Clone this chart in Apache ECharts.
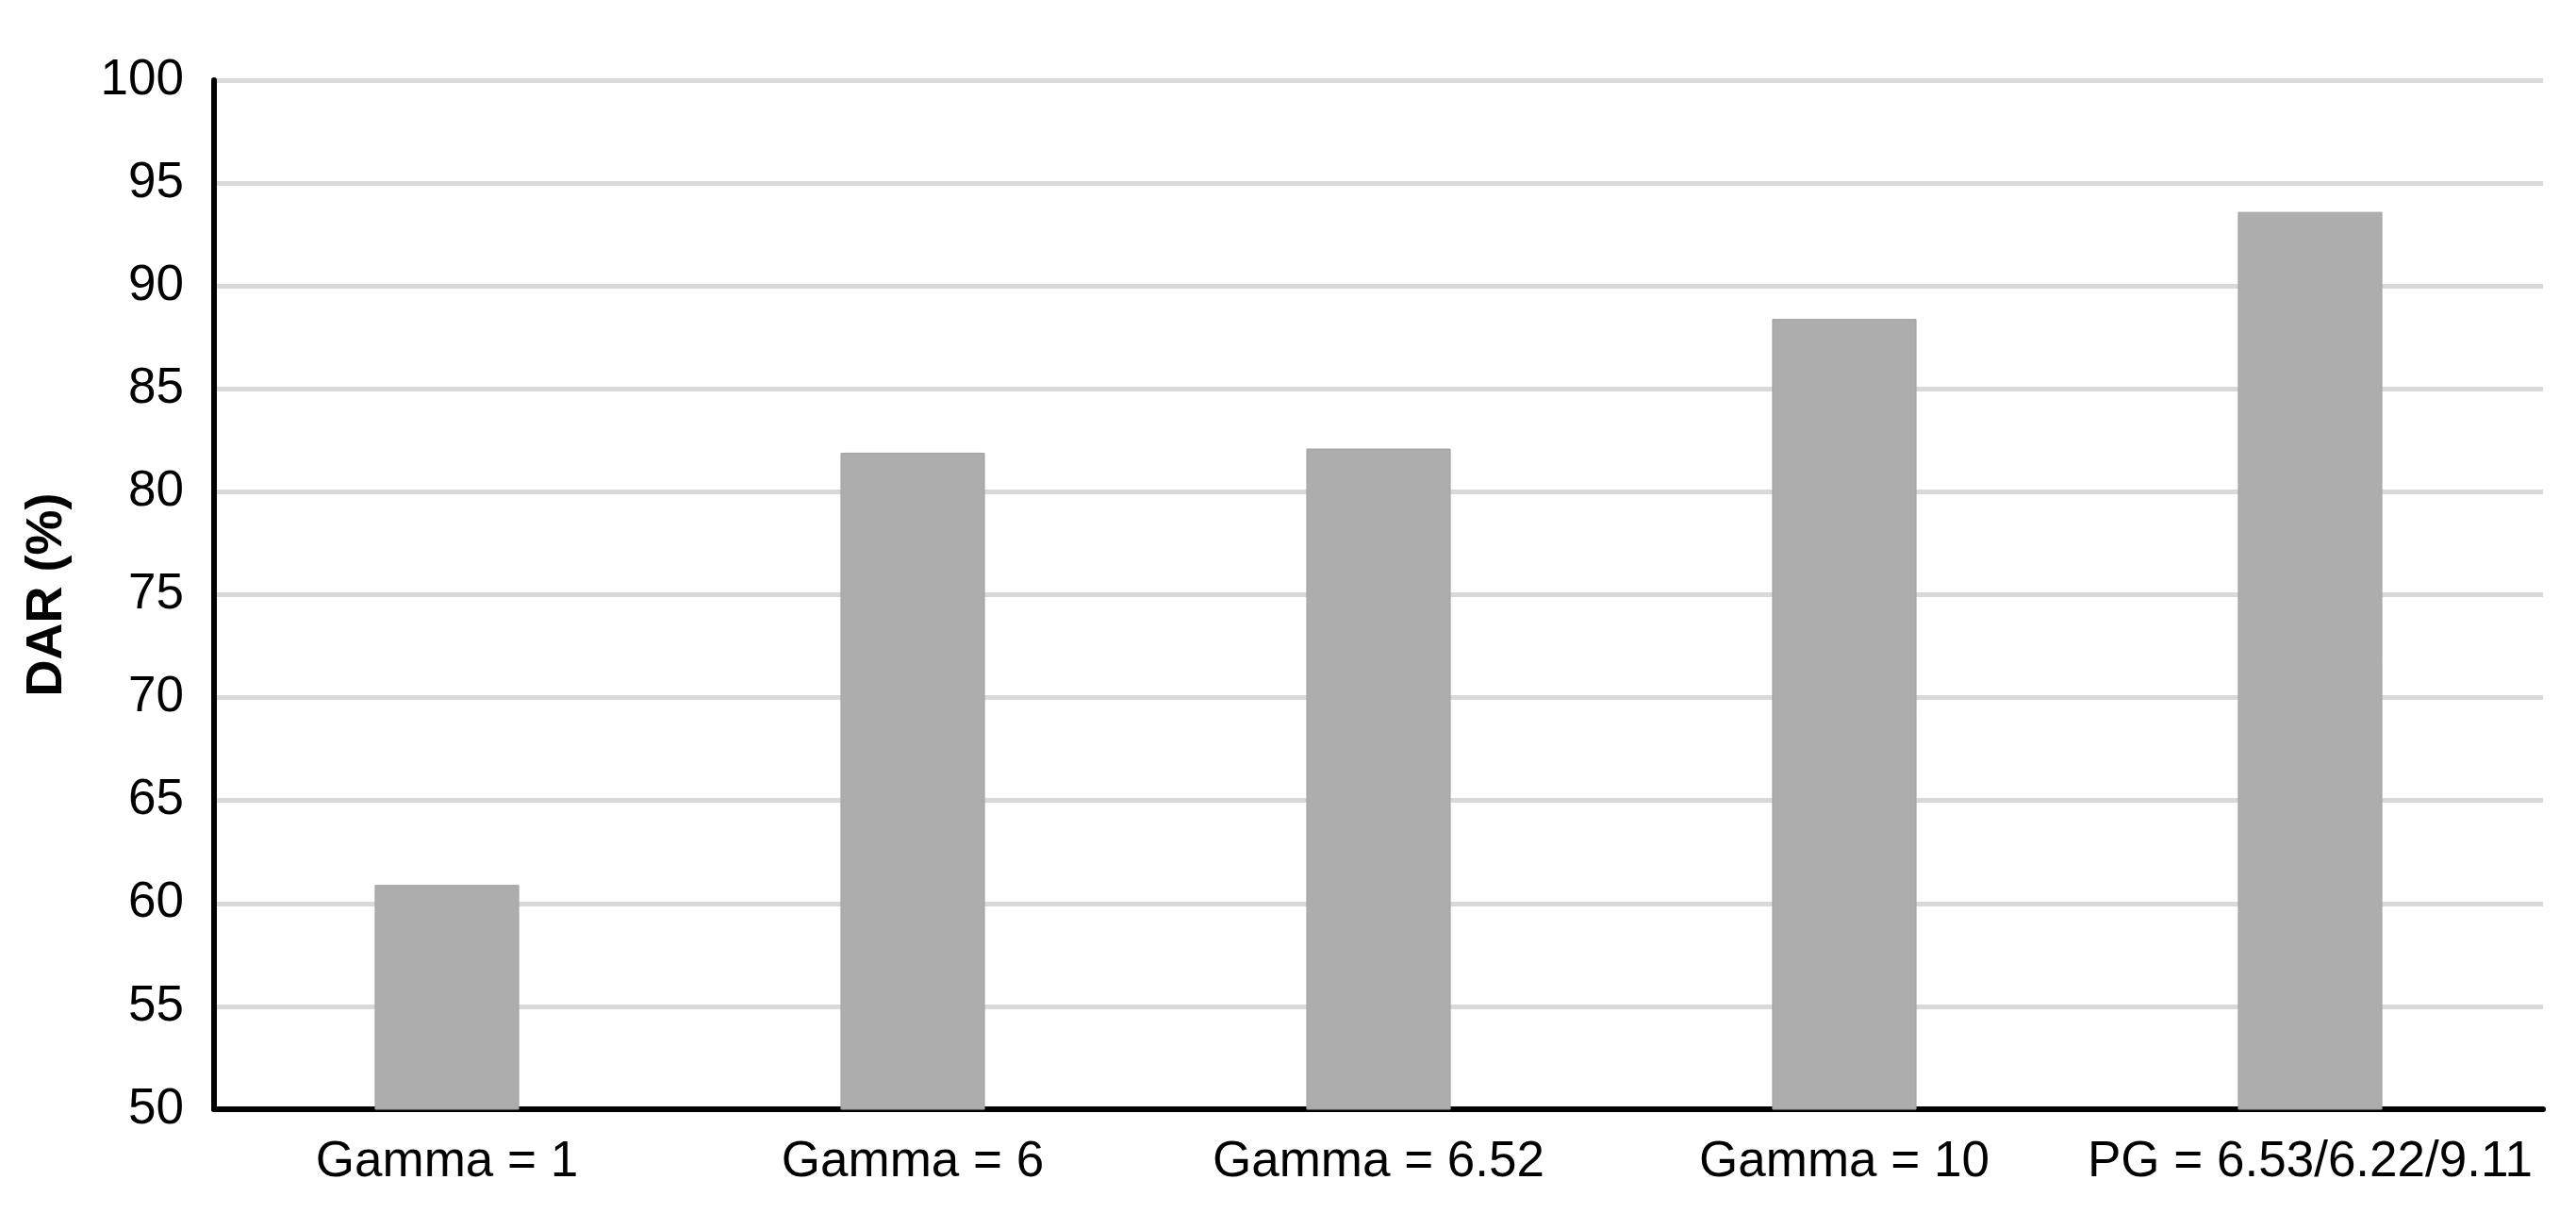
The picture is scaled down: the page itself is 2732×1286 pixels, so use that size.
<!DOCTYPE html>
<html>
<head>
<meta charset="utf-8">
<title>DAR chart</title>
<script src="https://cdn.jsdelivr.net/npm/echarts@6/dist/echarts.min.js"></script>
<style>
  html, body { margin: 0; padding: 0; background: #fff; }
  #chart { width: 2732px; height: 1286px; }
</style>
</head>
<body>
<div id="chart"></div>
<script>
// categories and values
const categories = ['Gamma = 1', 'Gamma = 6', 'Gamma = 6.52', 'Gamma = 10', 'PG = 6.53/6.22/9.11'];
const darValues = [60.9, 81.9, 82.1, 88.4, 93.6];
const yTicks = { min: 50, max: 100, step: 5 };

const chart = echarts.init(document.getElementById('chart'));
const font = '"Liberation Sans", Arial, sans-serif';

chart.setOption({
  animation: false,
  grid: {
    left: 227,
    right: 35,
    top: 85,
    bottom: 110
  },
  xAxis: {
    type: 'category',
    data: categories,
    axisLine: {
      lineStyle: { color: '#000', width: 6 }
    },
    axisTick: { show: false },
    axisLabel: {
      interval: 0,
      color: '#000',
      fontFamily: font,
      fontSize: 53,
      margin: 30
    }
  },
  yAxis: {
    type: 'value',
    min: yTicks.min,
    max: yTicks.max,
    interval: yTicks.step,
    name: 'DAR (%)',
    nameLocation: 'middle',
    nameGap: 150,
    nameTextStyle: {
      color: '#000',
      fontFamily: font,
      fontSize: 54,
      fontWeight: 'bold'
    },
    axisLine: {
      show: true,
      lineStyle: { color: '#000', width: 6 }
    },
    axisTick: { show: false },
    axisLabel: {
      color: '#000',
      fontFamily: font,
      fontSize: 53,
      margin: 32
    },
    splitLine: {
      lineStyle: { color: '#d9d9d9', width: 5 }
    }
  },
  series: [
    {
      type: 'bar',
      data: darValues,
      barWidth: '31%',
      itemStyle: {
        color: '#adadad',
        borderColor: '#a3a3a3',
        borderWidth: 1
      }
    }
  ]
});
</script>
</body>
</html>
